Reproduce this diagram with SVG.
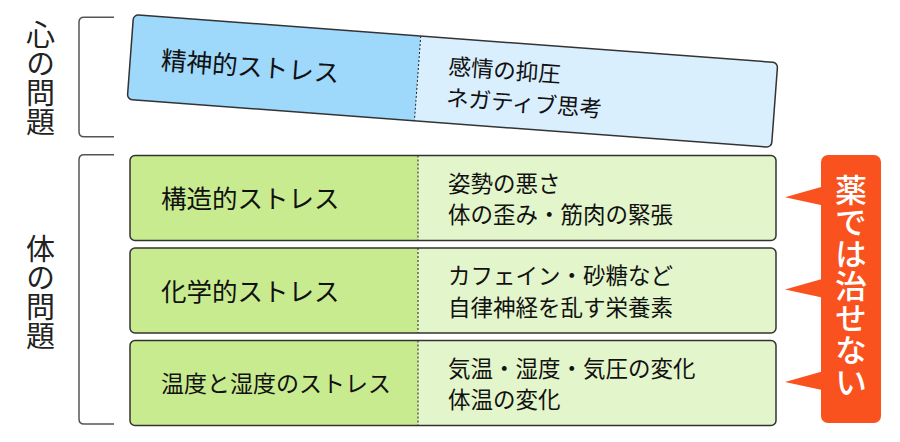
<svg xmlns="http://www.w3.org/2000/svg" width="900" height="442" viewBox="0 0 900 442">
<style>
text{font-family:"Noto Sans CJK JP","Noto Sans",sans-serif;fill:#111;}
.outline{fill:none;stroke:#333;stroke-width:1.5;}
.div{stroke:#222;stroke-width:1;stroke-dasharray:2 2;}
.lbl{font-size:25.5px;dominant-baseline:central;}
.lbl3{font-size:23px;dominant-baseline:central;}
.desc{font-size:22.5px;dominant-baseline:central;}
.side{font-size:29px;writing-mode:vertical-rl;fill:#222;}
.bracket{fill:none;stroke:#555;stroke-width:1.5;}
.gL{fill:#c8eb8f;} .gR{fill:#e3f5ca;}
.bL{fill:#9ed8fb;} .bR{fill:#d9effd;}
.callout{fill:#f9521f;}
.ctext{font-size:32px;writing-mode:vertical-rl;fill:#fff;font-weight:500;}
</style>
<defs>
<path id="leftPart" d="M5,0 H288 V85 H5 Q0,85 0,80 V5 Q0,0 5,0 Z"/>
</defs>

<g id="brackets">
<path class="bracket" d="M114,17.3 H84 Q79,17.3 79,22.3 V131.7 Q79,136.7 84,136.7 H114"/>
<path class="bracket" d="M114,154.7 H84 Q79,154.7 79,159.7 V419 Q79,424 84,424 H114"/>
</g>

<g id="label-mind">
<text class="side" x="40.5" y="20.5">心の問題</text>
</g>
<g id="label-body">
<text class="side" x="40.5" y="234">体の問題</text>
</g>

<g id="node-mental" transform="rotate(4.26 452.5 81) translate(129.5 38.5)">
<rect x="0" y="0" width="646" height="85" rx="5" class="bR"/>
<use href="#leftPart" class="bL"/>
<line x1="288" y1="0" x2="288" y2="85" class="div"/>
<rect x="0" y="0" width="646" height="85" rx="5" class="outline"/>
<text class="lbl" x="31" y="41">精神的ストレス</text>
<text class="desc" x="318" y="26.2">感情の抑圧</text>
<text class="desc" x="318" y="57.5">ネガティブ思考</text>
</g>

<g id="node-structural" transform="translate(130 155.5)">
<rect x="0" y="0" width="646" height="85" rx="5" class="gR"/>
<use href="#leftPart" class="gL"/>
<line x1="288" y1="0" x2="288" y2="85" class="div"/>
<rect x="0" y="0" width="646" height="85" rx="5" class="outline"/>
<text class="lbl" x="31" y="41">構造的ストレス</text>
<text class="desc" x="318" y="26.2">姿勢の悪さ</text>
<text class="desc" x="318" y="57.5">体の歪み・筋肉の緊張</text>
</g>

<g id="node-chemical" transform="translate(130 248)">
<rect x="0" y="0" width="646" height="85" rx="5" class="gR"/>
<use href="#leftPart" class="gL"/>
<line x1="288" y1="0" x2="288" y2="85" class="div"/>
<rect x="0" y="0" width="646" height="85" rx="5" class="outline"/>
<text class="lbl" x="31" y="41">化学的ストレス</text>
<text class="desc" x="318" y="26.2">カフェイン・砂糖など</text>
<text class="desc" x="318" y="57.5">自律神経を乱す栄養素</text>
</g>

<g id="node-temperature" transform="translate(130 340.5)">
<rect x="0" y="0" width="646" height="85" rx="5" class="gR"/>
<use href="#leftPart" class="gL"/>
<line x1="288" y1="0" x2="288" y2="85" class="div"/>
<rect x="0" y="0" width="646" height="85" rx="5" class="outline"/>
<text class="lbl3" x="31" y="41">温度と湿度のストレス</text>
<text class="desc" x="318" y="26.2">気温・湿度・気圧の変化</text>
<text class="desc" x="318" y="57.5">体温の変化</text>
</g>

<g id="node-callout">
<rect x="821" y="155" width="60" height="268" rx="7" class="callout"/>
<text class="ctext" x="851" y="174">薬では治せない</text>
</g>

<g id="connectors">
<polygon class="callout" points="822,186.8 785,197.3 822,205.3"/>
<polygon class="callout" points="822,279 785,289.5 822,297.5"/>
<polygon class="callout" points="822,371.5 785,382 822,390"/>
</g>
</svg>
